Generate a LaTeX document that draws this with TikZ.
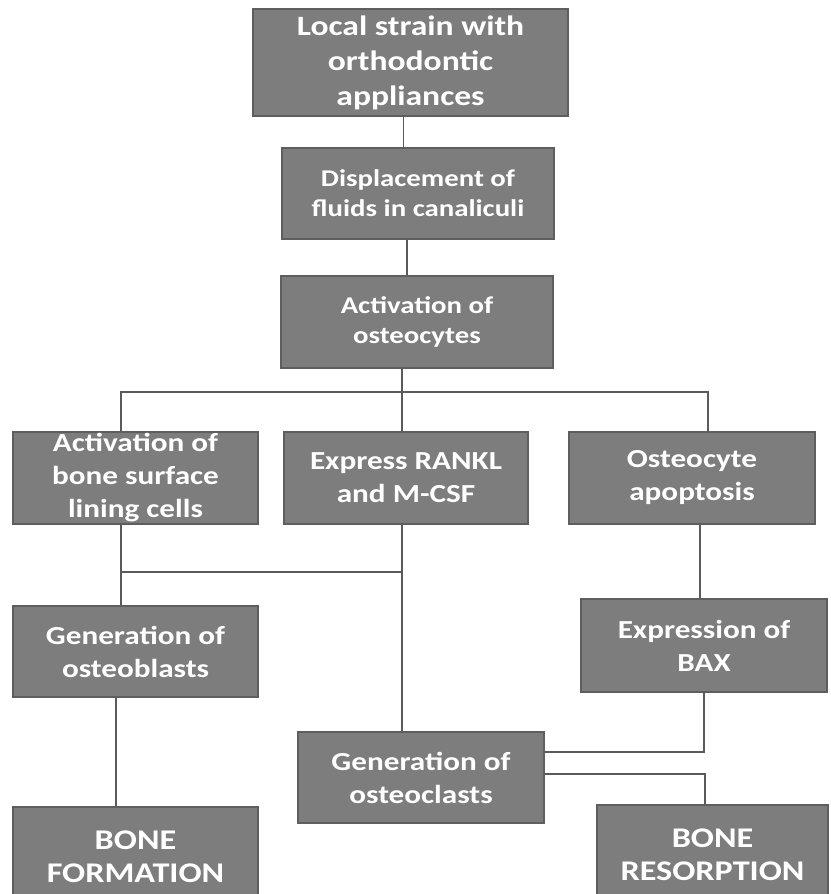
\documentclass[tikz,border=0pt]{standalone}
\usepackage{fontspec}
\newfontfamily\boxfont[FakeStretch=1.2]{Carlito}
\definecolor{boxfill}{HTML}{7D7D7D}
\definecolor{boxline}{HTML}{5E5E5E}
\definecolor{wirecol}{HTML}{5A5A5A}
\newcommand\fsTop{\boxfont\bfseries\fontsize{28}{35}\selectfont}
\newcommand\fsMid{\boxfont\bfseries\fontsize{24}{30}\selectfont}
\newcommand\fsRow{\boxfont\bfseries\fontsize{26}{33}\selectfont}
\newcommand\fsEnd{\boxfont\bfseries\fontsize{28.5}{33}\selectfont}
\begin{document}
\begin{tikzpicture}[x=1pt,y=-1pt,
  box/.style={draw=boxline, fill=boxfill, line width=1.2pt, inner sep=0pt,
    align=center, text=white},
  wire/.style={draw=wirecol, line width=1.4pt}]
\clip (0,0) rectangle (830,894);
\fill[white] (0,0) rectangle (830,894);

% boxes
\node[box, minimum width=315pt, minimum height=107pt, font=\fsTop] (b1) at (410.5,62.5)
  {Local strain with\\orthodontic\\appliances};
\node[box, minimum width=272pt, minimum height=91pt, font=\fsMid] (b2) at (418,193.5)
  {Displacement of\\fluids in canaliculi};
\node[box, minimum width=272pt, minimum height=92pt, font=\fsMid] (b3) at (417,322)
  {Activation of\\osteocytes};
\node[box, minimum width=245pt, minimum height=92pt, font=\fsRow] (a1) at (135.5,478)
  {Activation of\\bone surface\\lining cells};
\node[box, minimum width=244pt, minimum height=92pt, font=\fsRow] (a2) at (406,478)
  {Express RANKL\\and M-CSF};
\node[box, minimum width=246pt, minimum height=92pt, font=\fsRow] (a3) at (692,478)
  {Osteocyte\\apoptosis};
\node[box, minimum width=245pt, minimum height=91pt, font=\fsRow] (o1) at (135.5,651.5)
  {Generation of\\osteoblasts};
\node[box, minimum width=246pt, minimum height=93pt, font=\fsRow] (bax) at (704,645.5)
  {Expression of\\BAX};
\node[box, minimum width=246pt, minimum height=91pt, font=\fsRow] (oc) at (421,777.5)
  {Generation of\\osteoclasts};
\node[box, minimum width=245pt, minimum height=100pt, font=\fsEnd] (bf) at (135.5,857)
  {BONE\\FORMATION};
\node[box, minimum width=231pt, minimum height=100pt, font=\fsEnd] (br) at (712.5,855)
  {BONE\\RESORPTION};

% junction coordinates
\coordinate (hL) at (121,392);
\coordinate (hR) at (708,392);
\coordinate (hM) at (402,392);
\coordinate (m) at (402,572);
\coordinate (r1) at (700,560);
\coordinate (r2) at (704,752);
\coordinate (r3) at (705,774);
\coordinate (l2) at (116,750);

% connectors
\draw[wire] ([xshift=-7pt]b1.south) -- ([xshift=-7pt]b1.south |- b2.north);
\draw[wire] ([xshift=-11pt]b2.south) -- ([xshift=-11pt]b2.south |- b3.north);
\draw[wire] (hM |- b3.south) -- (hM |- a2.north);
\draw[wire] (hL |- a1.north) -- (hL) -- (hR) -- (hR |- a3.north);
\draw[wire] (hL |- a1.south) -- (hL |- o1.north);
\draw[wire] (hL |- m) -- (m);
\draw[wire] (m |- a2.south) -- (m |- oc.north);
\draw[wire] (r1 |- a3.south) -- (r1 |- bax.north);
\draw[wire] (r2 |- bax.south) -- (r2) -- (r2 -| oc.east);
\draw[wire] (r3 -| oc.east) -- (r3) -- (r3 |- br.north);
\draw[wire] (l2 |- o1.south) -- (l2 |- bf.north);
\end{tikzpicture}
\end{document}
